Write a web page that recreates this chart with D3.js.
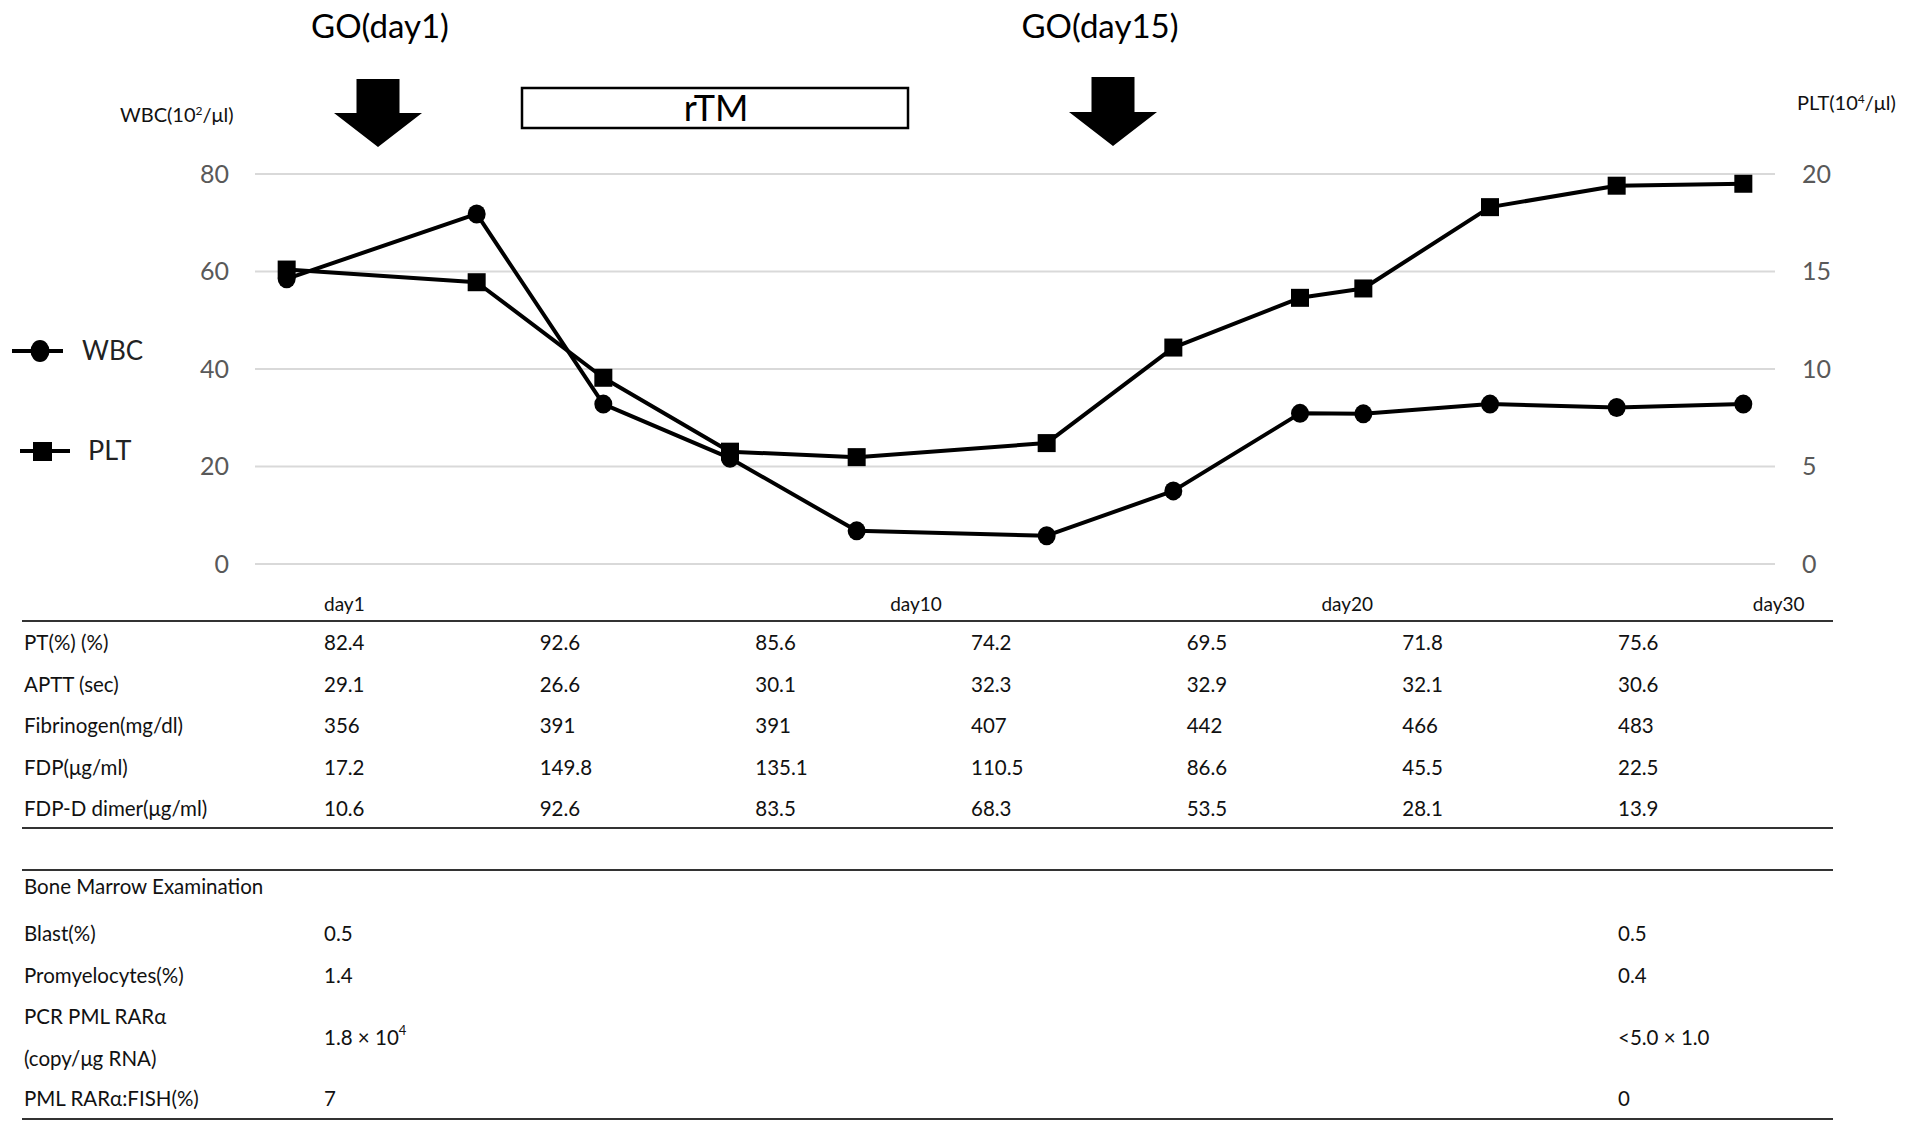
<!DOCTYPE html>
<html><head><meta charset="utf-8">
<script src="https://cdn.jsdelivr.net/npm/d3@7"></script>
<style>
html,body{margin:0;padding:0;background:#fff;}
svg text{font-family:"Lato",sans-serif;}
</style></head>
<body><svg id="c" width="1913" height="1134"></svg>
<script>
// ---- data ----
const days = [1, 4, 6, 8, 10, 13, 15, 17, 18, 20, 22, 24];
const wbc = [58.5, 71.8, 32.8, 21.7, 6.8, 5.8, 15.0, 30.9, 30.8, 32.8, 32.1, 32.8];
const plt = [15.1, 14.45, 9.55, 5.76, 5.48, 6.2, 11.1, 13.65, 14.13, 18.3, 19.4, 19.5];
const leftTicks = [0, 20, 40, 60, 80];
const rightTicks = [0, 5, 10, 15, 20];
const headerLabels = ["day1", "day10", "day20", "day30"];
const coagLabels = ["PT(%) (%)", "APTT (sec)", "Fibrinogen(mg/dl)", "FDP(μg/ml)", "FDP-D dimer(μg/ml)"];
const ptValues = ["82.4", "92.6", "85.6", "74.2", "69.5", "71.8", "75.6"];
const apttValues = ["29.1", "26.6", "30.1", "32.3", "32.9", "32.1", "30.6"];
const fibValues = ["356", "391", "391", "407", "442", "466", "483"];
const fdpValues = ["17.2", "149.8", "135.1", "110.5", "86.6", "45.5", "22.5"];
const ddimerValues = ["10.6", "92.6", "83.5", "68.3", "53.5", "28.1", "13.9"];
const bmTitle = "Bone Marrow Examination";
const bmLabels = [["Blast(%)"], ["Promyelocytes(%)"], ["PCR PML RARα", "(copy/μg RNA)"], ["PML RARα:FISH(%)"]];
const bmBefore = [["0.5"], ["1.4"], ["1.8 × 10", "4"], ["7"]];
const bmAfter = [["0.5"], ["0.4"], ["<5.0 × 1.0"], ["0"]];
const annotations = ["GO(day1)", "GO(day15)", "rTM"];

// ---- layout ----
const svg = d3.select("#c");
const x = d3.scaleLinear().domain([0.5, 24.5]).range([255, 1775]);
const yL = d3.scaleLinear().domain([0, 80]).range([564, 174]);
const yR = d3.scaleLinear().domain([0, 20]).range([564, 174]);

// gridlines
svg.append("g").selectAll("line").data(leftTicks).join("line")
  .attr("x1", x.range()[0]).attr("x2", x.range()[1])
  .attr("y1", d => yL(d)).attr("y2", d => yL(d))
  .attr("stroke", "#d9d9d9").attr("stroke-width", 2);

// axes
const axL = svg.append("g").attr("transform", "translate(229,0)")
  .call(d3.axisLeft(yL).tickValues(leftTicks).tickSize(0).tickPadding(0));
axL.select(".domain").remove();
axL.selectAll("text").attr("font-size", 25).attr("fill", "#595959")
  .style("font-family", '"Lato",sans-serif');
const axR = svg.append("g").attr("transform", "translate(1802,0)")
  .call(d3.axisRight(yR).tickValues(rightTicks).tickSize(0).tickPadding(0));
axR.select(".domain").remove();
axR.selectAll("text").attr("font-size", 25).attr("fill", "#595959")
  .style("font-family", '"Lato",sans-serif');

// axis titles
const t1 = svg.append("text").attr("x", 120).attr("y", 115).attr("dy", "0.35em").attr("font-size", 20).attr("fill", "#111");
t1.append("tspan").text("WBC(10");
t1.append("tspan").text("2").attr("font-size", 12).attr("dy", "-0.55em");
t1.append("tspan").text("/μl)").attr("dy", "0.33em");
const t2 = svg.append("text").attr("x", 1797).attr("y", 103).attr("dy", "0.35em").attr("font-size", 20).attr("fill", "#111");
t2.append("tspan").text("PLT(10");
t2.append("tspan").text("4").attr("font-size", 12).attr("dy", "-0.55em");
t2.append("tspan").text("/μl)").attr("dy", "0.33em");

// lines
const lineW = d3.line().x((d, i) => x(days[i])).y(d => yL(d));
const lineP = d3.line().x((d, i) => x(days[i])).y(d => yR(d));
svg.append("path").datum(wbc).attr("d", lineW).attr("fill", "none").attr("stroke", "#000").attr("stroke-width", 4).attr("stroke-linejoin", "round");
svg.append("path").datum(plt).attr("d", lineP).attr("fill", "none").attr("stroke", "#000").attr("stroke-width", 4).attr("stroke-linejoin", "round");
svg.append("g").selectAll("ellipse").data(wbc).join("ellipse")
  .attr("cx", (d, i) => x(days[i])).attr("cy", d => yL(d)).attr("rx", 9).attr("ry", 9.5).attr("fill", "#000");
svg.append("g").selectAll("rect").data(plt).join("rect")
  .attr("x", (d, i) => x(days[i]) - 9).attr("y", d => yR(d) - 9).attr("width", 18).attr("height", 18).attr("fill", "#000");

// legend
const lg = svg.append("g");
lg.append("line").attr("x1", 12).attr("x2", 63).attr("y1", 351).attr("y2", 351).attr("stroke", "#000").attr("stroke-width", 4);
lg.append("ellipse").attr("cx", 40).attr("cy", 351).attr("rx", 9.5).attr("ry", 11).attr("fill", "#000");
lg.append("text").attr("x", 82).attr("y", 351).attr("dy", "0.35em").attr("font-size", 26).attr("fill", "#222").text("WBC");
lg.append("line").attr("x1", 20).attr("x2", 70).attr("y1", 451).attr("y2", 451).attr("stroke", "#000").attr("stroke-width", 4);
lg.append("rect").attr("x", 33).attr("y", 442).attr("width", 19).attr("height", 19).attr("fill", "#000");
lg.append("text").attr("x", 88).attr("y", 451).attr("dy", "0.35em").attr("font-size", 27).attr("fill", "#222").text("PLT");

// annotations: arrows and rTM box
function arrow(cx, top, headY, tip) {
  const p = d3.path();
  p.moveTo(cx - 21.5, top); p.lineTo(cx + 21.5, top); p.lineTo(cx + 21.5, headY);
  p.lineTo(cx + 44, headY); p.lineTo(cx, tip); p.lineTo(cx - 44, headY);
  p.lineTo(cx - 21.5, headY); p.closePath();
  return p.toString();
}
svg.append("path").attr("d", arrow(378, 79, 113, 147)).attr("fill", "#000");
svg.append("path").attr("d", arrow(1113, 77, 112, 146)).attr("fill", "#000");
svg.append("text").attr("x", 380).attr("y", 38).attr("text-anchor", "middle").attr("font-size", 33).attr("fill", "#000").text(annotations[0]);
svg.append("text").attr("x", 1100).attr("y", 38).attr("text-anchor", "middle").attr("font-size", 33).attr("fill", "#000").text(annotations[1]);
svg.append("rect").attr("x", 522).attr("y", 88).attr("width", 386).attr("height", 40).attr("fill", "#fff").attr("stroke", "#000").attr("stroke-width", 2.5);
svg.append("text").attr("x", 716).attr("y", 121).attr("text-anchor", "middle").attr("font-size", 36).attr("fill", "#000").text(annotations[2]);

// ---- table ----
const col = d3.scaleLinear().domain([0, 6]).range([324, 1618]);
const headerCols = [0, 2.625, 4.625, 6.625];
const fs = 20.5;
const tcol = "#111";
svg.append("g").selectAll("text").data(headerLabels).join("text")
  .attr("x", (d, i) => col(headerCols[i])).attr("y", 604).attr("dy", "0.35em")
  .attr("font-size", 19).attr("fill", tcol).text(d => d);

function rule(y) {
  svg.append("line").attr("x1", 22).attr("x2", 1833).attr("y1", y).attr("y2", y).attr("stroke", "#333").attr("stroke-width", 2);
}
rule(621); rule(828); rule(870); rule(1119);

const coagValues = [ptValues, apttValues, fibValues, fdpValues, ddimerValues];
const rowY = d3.scaleLinear().domain([0, 4]).range([643, 809]);
coagLabels.forEach((lab, r) => {
  svg.append("text").attr("x", 24).attr("y", rowY(r)).attr("dy", "0.35em").attr("font-size", fs).attr("fill", tcol).text(lab);
  svg.append("g").selectAll("text").data(coagValues[r]).join("text")
    .attr("x", (d, i) => col(i)).attr("y", rowY(r)).attr("dy", "0.35em")
    .attr("font-size", fs).attr("fill", tcol).text(d => d);
});

// bone marrow
svg.append("text").attr("x", 24).attr("y", 887).attr("dy", "0.35em").attr("font-size", fs).attr("fill", tcol).text(bmTitle);
const bmY = [934, 976, 1038, 1099];
bmLabels.forEach((lines, r) => {
  const n = lines.length;
  lines.forEach((ln, k) => {
    svg.append("text").attr("x", 24).attr("y", bmY[r] + (k - (n - 1) / 2) * 42).attr("dy", "0.35em")
      .attr("font-size", fs).attr("fill", tcol).text(ln);
  });
  [[bmBefore, 0], [bmAfter, 6]].forEach(([arr, c]) => {
    const t = svg.append("text").attr("x", col(c)).attr("y", bmY[r]).attr("dy", "0.35em").attr("font-size", fs).attr("fill", tcol);
    t.append("tspan").text(arr[r][0]);
    if (arr[r][1]) t.append("tspan").text(arr[r][1]).attr("font-size", 13).attr("dy", "-0.8em");
  });
});
</script></body></html>
